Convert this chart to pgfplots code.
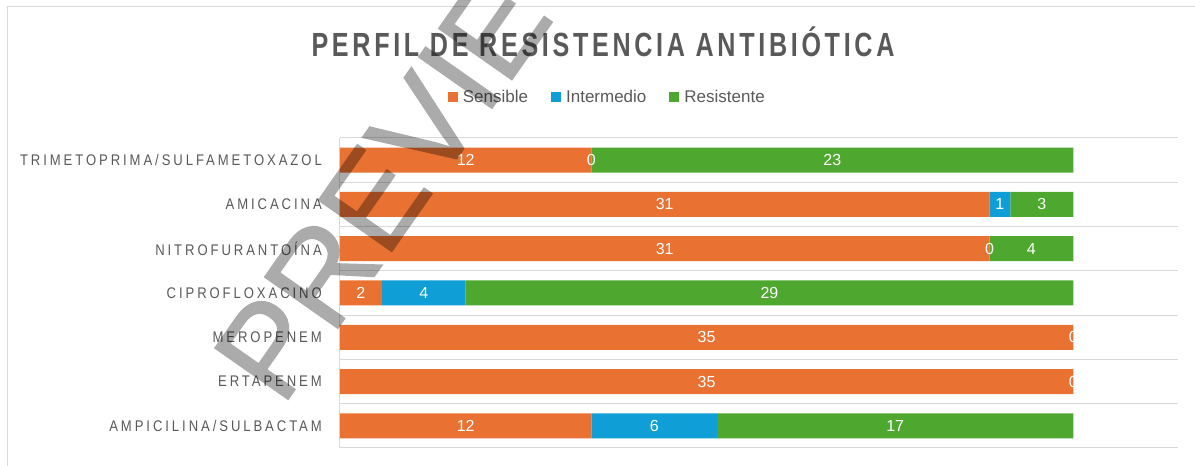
\documentclass[border=0pt]{standalone}
\usepackage{fontspec}
\setmainfont{Liberation Sans}
\newfontfamily\titlefont{Liberation Sans}[FakeStretch=0.75,LetterSpace=11]
\newfontfamily\catfont{Liberation Sans}[FakeStretch=0.85,LetterSpace=19]
\newfontfamily\wmfont{Liberation Sans}[FakeBold=1]
\usepackage{pgfplots}
\usepackage{pgfplotstable}
\pgfplotsset{compat=1.18}
\definecolor{cS}{HTML}{E97132}
\definecolor{cI}{HTML}{0F9ED5}
\definecolor{cR}{HTML}{4EA72E}
\definecolor{txt}{HTML}{595959}
\definecolor{grd}{HTML}{D9D9D9}
\pgfplotstableread{
y S I R
0 12 6 17
1 35 0 0
2 35 0 0
3 2 4 29
4 31 0 4
5 31 1 3
6 12 0 23
}\datatab
% positions (cumulative) of the zero-valued segments, for their labels
\pgfplotstableread{
x y v
12 6 0
31 4 0
35 2 0
35 1 0
}\zerotab
\begin{document}
\begin{tikzpicture}
\useasboundingbox (0,0) rectangle (1195pt,466pt);
\draw[grd, line width=1pt] (7pt,-5pt) -- (7pt,459pt) -- (1200pt,459pt);
\node[anchor=base, text=txt, font=\fontsize{33.5}{36}\titlefont\bfseries] at (603pt,409pt) {PERFIL DE RESISTENCIA ANTIBIÓTICA};
\begin{axis}[
  at={(340pt,18pt)}, anchor=south west,
  scale only axis, width=838pt, height=310pt,
  xbar stacked, bar width=25pt,
  xmin=0, xmax=40, ymin=-0.5, ymax=6.5,
  axis x line=none, axis y line*=left,
  y axis line style={grd, line width=1pt},
  ytick={0,...,6},
  yticklabels={AMPICILINA/SULBACTAM,ERTAPENEM,MEROPENEM,CIPROFLOXACINO,NITROFURANTOÍNA,AMICACINA,TRIMETOPRIMA/SULFAMETOXAZOL},
  minor ytick={-0.5,0.5,...,6.5},
  yminorgrids=true,
  minor grid style={grd, line width=1pt},
  major tick length=0pt, minor tick length=0pt,
  yticklabel style={font=\fontsize{15.4}{16}\catfont, text=txt, inner sep=0pt, anchor=east, xshift=-18pt},
  point meta=explicit,
  nodes near coords={\pgfmathprintnumber[assume math mode=true]{\pgfplotspointmeta}},
  every node near coord/.append style={font=\fontsize{16}{18}\selectfont, text=white, anchor=center},
  legend style={at={(0.319,1.132)}, anchor=center, draw=none, fill=none, legend columns=-1,
    font=\fontsize{17}{20}\selectfont, text=txt,
    /tikz/every odd column/.append style={column sep=3pt},
    /tikz/every even column/.append style={column sep=21pt}},
  legend image code/.code={\fill[#1] (0pt,-5pt) rectangle (10pt,5pt);},
]
\addplot[fill=cS, draw=none] table[x=S, y=y, meta=S] {\datatab};
\addplot[fill=cI, draw=none] table[x=I, y=y, meta=I] {\datatab};
\addplot[fill=cR, draw=none] table[x=R, y=y, meta=R] {\datatab};
\legend{Sensible, Intermedio, Resistente}
\end{axis}
\begin{axis}[
  at={(340pt,18pt)}, anchor=south west,
  scale only axis, width=838pt, height=310pt,
  xmin=0, xmax=40, ymin=-0.5, ymax=6.5,
  hide axis, clip=false,
  point meta=explicit,
  nodes near coords={\pgfmathprintnumber[assume math mode=true]{\pgfplotspointmeta}},
  every node near coord/.append style={font=\fontsize{16}{18}\selectfont, text=white, anchor=center},
]
\addplot[draw=none, mark=none] table[x=x, y=y, meta=v] {\zerotab};
\end{axis}
\begin{scope}[transparency group, opacity=0.33]
\node[rotate=55, anchor=base west, font=\fontsize{130}{130}\wmfont, text=black] at (280pt,55pt) {PREVIEW};
\end{scope}
\end{tikzpicture}
\end{document}
